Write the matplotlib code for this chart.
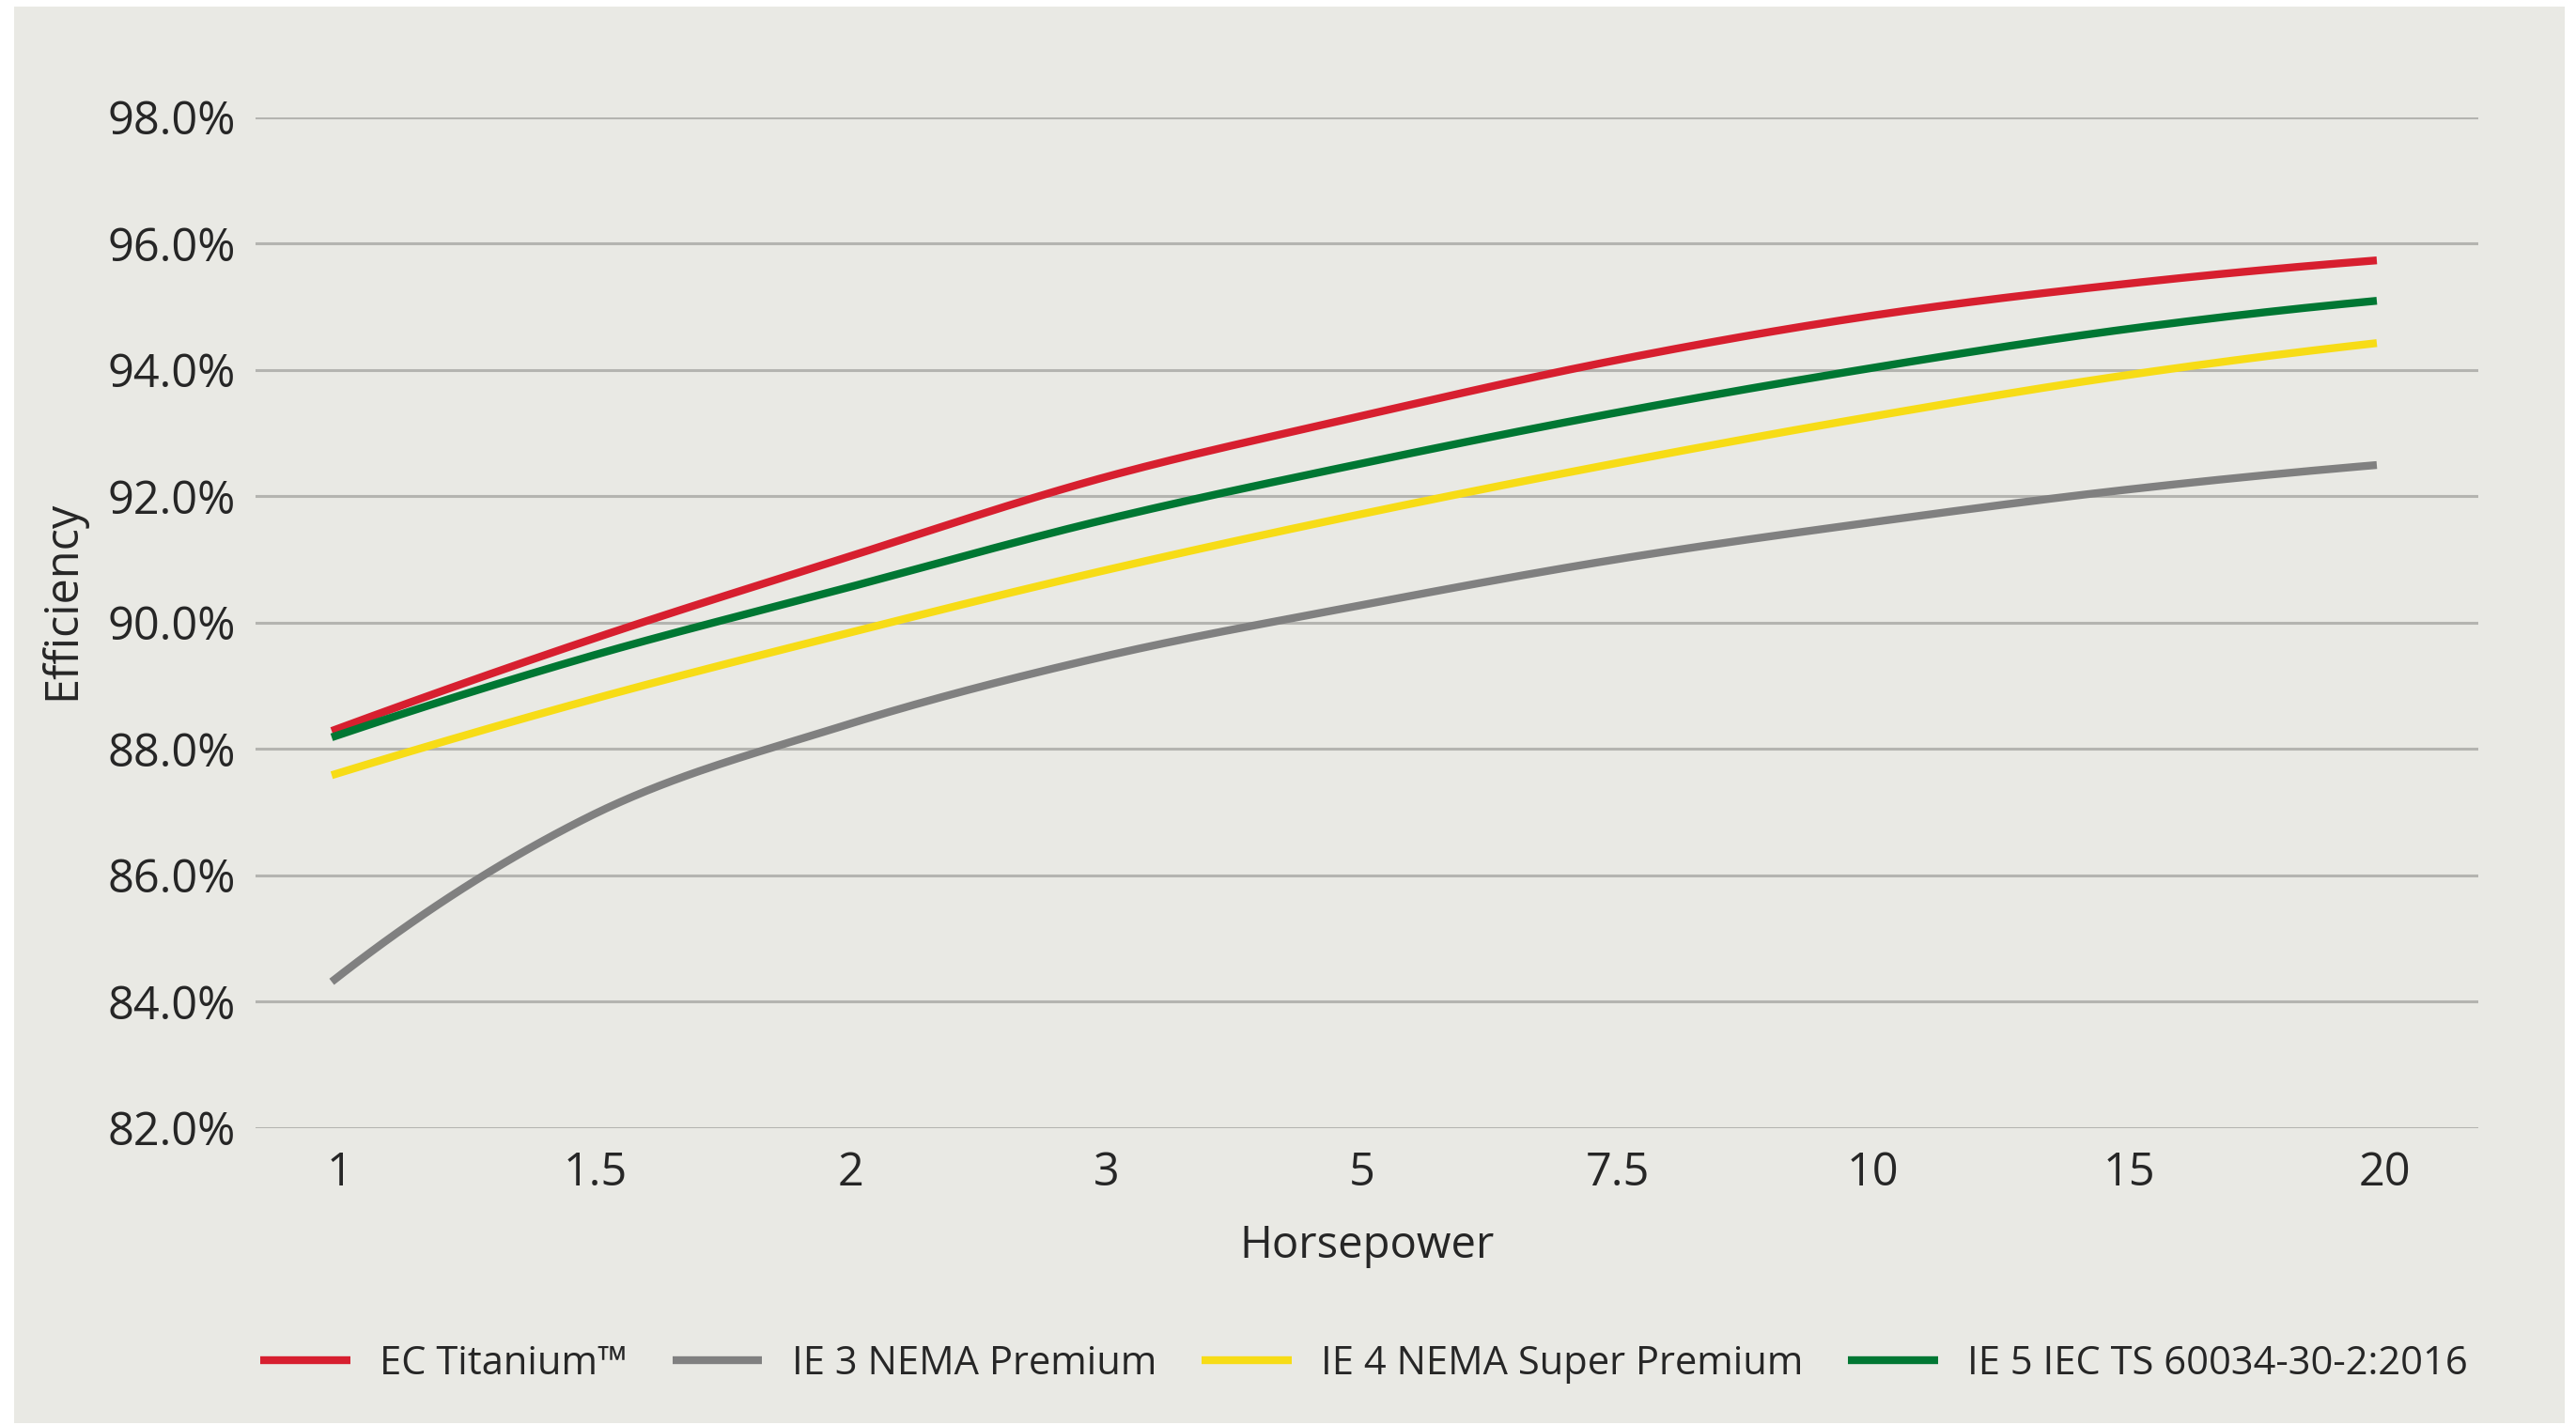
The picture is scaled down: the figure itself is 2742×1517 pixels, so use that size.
import numpy as np
import matplotlib
matplotlib.use("Agg")
import matplotlib.pyplot as plt
from matplotlib.patches import Rectangle
from matplotlib.ticker import FuncFormatter

plt.rcParams['font.family'] = ['Open Sans', 'DejaVu Sans']

# motor efficiency by horsepower rating
horsepower = ['1', '1.5', '2', '3', '5', '7.5', '10', '15', '20']
ec_titanium = [88.28, 89.71, 91.01, 92.27, 93.24, 94.13, 94.84, 95.35, 95.73]
ie3_premium = [84.31, 86.91, 88.36, 89.44, 90.25, 90.98, 91.57, 92.09, 92.49]
ie4_super = [87.58, 88.76, 89.81, 90.80, 91.69, 92.50, 93.24, 93.90, 94.42]
ie5_iec = [88.18, 89.45, 90.53, 91.60, 92.49, 93.30, 94.01, 94.63, 95.09]

series = [
    ('EC Titanium\u2122', ec_titanium, '#d71f2f'),
    ('IE 3 NEMA Premium', ie3_premium, '#808080'),
    ('IE 4 NEMA Super Premium', ie4_super, '#f7dc16'),
    ('IE 5 IEC TS 60034-30-2:2016', ie5_iec, '#007733'),
]

y_ticks = [82, 84, 86, 88, 90, 92, 94, 96, 98]

BG = '#e9e9e4'
TEXT = '#262626'


def smooth_line(xs, ys, steps=40):
    """Catmull-Rom curve through the points, like a spreadsheet 'smoothed line'."""
    p = np.column_stack([xs, ys]).astype(float)
    # phantom end points from a quadratic fit keep the end curvature
    start = 3 * p[0] - 3 * p[1] + p[2]
    end = 3 * p[-1] - 3 * p[-2] + p[-3]
    p = np.vstack([start, p, end])
    out = []
    t = np.linspace(0, 1, steps)[:, None]
    for i in range(1, len(p) - 2):
        p0, p1, p2, p3 = p[i - 1], p[i], p[i + 1], p[i + 2]
        seg = 0.5 * ((2 * p1) + (-p0 + p2) * t
                     + (2 * p0 - 5 * p1 + 4 * p2 - p3) * t ** 2
                     + (-p0 + 3 * p1 - 3 * p2 + p3) * t ** 3)
        out.append(seg if i == 1 else seg[1:])
    out = np.vstack(out)
    return out[:, 0], out[:, 1]


W, H = 2742, 1517
fig = plt.figure(figsize=(W / 100, H / 100), dpi=100, facecolor='white')

# tinted panel behind the chart
fig.patches.append(Rectangle((15 / W, 1 - 1515 / H), (2730 - 15) / W, (1515 - 7) / H,
                             transform=fig.transFigure, facecolor=BG,
                             edgecolor='none', zorder=-5))

ax = fig.add_axes([272 / W, 1 - 1200.5 / H, (2638 - 272) / W, (1200.5 - 124.5) / H])
ax.set_facecolor('none')
ax.set_zorder(2)

x = np.arange(len(horsepower))
handles = []
for label, vals, color in series:
    sx, sy = smooth_line(x, vals)
    ln, = ax.plot(sx, sy, color=color, lw=6.0, solid_capstyle='butt',
                  label=label, zorder=3, clip_on=False)
    handles.append(ln)

ax.set_xlim(-0.298, 8.397)
ax.set_ylim(82, 98)
ax.set_yticks(y_ticks)
ax.yaxis.set_major_formatter(FuncFormatter(lambda v, _: f'{v:.1f}%'))
ax.set_xticks(x + 0.03)
ax.set_xticklabels(horsepower)

ax.grid(axis='y', color='#b4b4b0', lw=2.2, zorder=1)
ax.grid(axis='x', visible=False)
for s in ax.spines.values():
    s.set_visible(False)
ax.tick_params(axis='both', length=0, labelsize=35, colors=TEXT)
ax.tick_params(axis='y', pad=15)
ax.tick_params(axis='x', pad=17)

fig.text(1455 / W, 1 - 1326 / H, 'Horsepower', ha='center', va='center',
         fontsize=34, color=TEXT)
fig.text(66 / W, 1 - 639 / H, 'Efficiency', ha='center', va='center',
         rotation=90, fontsize=35, color=TEXT)

fig.legend(handles=handles, loc='center', ncol=4, frameon=False,
           bbox_to_anchor=(1452 / W, 1 - 1452 / H), fontsize=30,
           handlelength=2.3, handletextpad=0.75, columnspacing=1.15,
           labelcolor=TEXT)

fig.savefig('out.png', dpi=100, facecolor='white')
